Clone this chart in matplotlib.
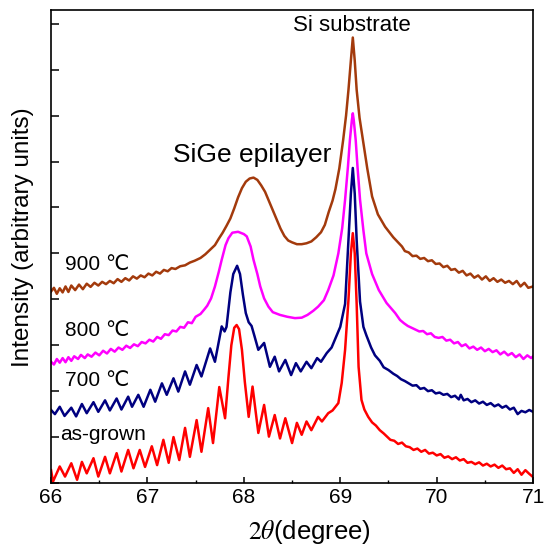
import matplotlib
matplotlib.use("Agg")
import matplotlib.pyplot as plt
from matplotlib.ticker import MultipleLocator

plt.rcParams['font.family'] = ['Liberation Sans', 'DejaVu Sans']
plt.rcParams['mathtext.fontset'] = 'stix'

# ------------------------------------------------------------
# data (2theta in degree, intensity in arb. units)
# ------------------------------------------------------------
red_x = [66.00, 66.02, 66.09, 66.145, 66.21, 66.27, 66.32, 66.37, 66.44, 66.49,
         66.56, 66.61, 66.68, 66.73, 66.80, 66.855, 66.92, 66.975, 67.045, 67.10,
         67.165, 67.22, 67.27, 67.33, 67.39, 67.44, 67.51, 67.56, 67.63, 67.68,
         67.745, 67.805, 67.84, 67.87, 67.90, 67.925, 67.95, 67.98, 68.01, 68.05,
         68.09, 68.15, 68.21, 68.26, 68.32, 68.375, 68.43, 68.50, 68.55, 68.60,
         68.65, 68.70, 68.77, 68.81, 68.875, 68.92, 68.98, 69.015, 69.05, 69.085,
         69.11, 69.13, 69.15, 69.17, 69.19, 69.22, 69.25, 69.29, 69.33, 69.37,
         69.41, 69.45, 69.48, 69.52, 69.56, 69.60, 69.64, 69.68, 69.72, 69.76,
         69.80, 69.84, 69.88, 69.92, 69.96, 70.00, 70.04, 70.08, 70.12, 70.16,
         70.20, 70.24, 70.28, 70.32, 70.36, 70.40, 70.44, 70.48, 70.52, 70.56,
         70.60, 70.64, 70.68, 70.72, 70.76, 70.80, 70.84, 70.88, 70.92, 70.96, 71.00]
red_y = [0.28, 0.03, 0.36, 0.14, 0.43, 0.07, 0.46, 0.21, 0.54, 0.14,
         0.57, 0.21, 0.65, 0.25, 0.72, 0.32, 0.72, 0.35, 0.80, 0.39,
         0.94, 0.44, 1.00, 0.50, 1.20, 0.57, 1.37, 0.68, 1.63, 0.87,
         2.09, 1.41, 2.30, 3.00, 3.38, 3.44, 3.35, 2.90, 2.20, 1.44,
         2.10, 1.09, 1.70, 1.01, 1.48, 0.97, 1.41, 0.87, 1.31, 1.05,
         1.34, 1.15, 1.44, 1.34, 1.52, 1.58, 1.74, 2.18, 2.90, 3.99,
         5.00, 5.44, 5.00, 3.90, 2.53, 1.81, 1.60, 1.44, 1.32, 1.25,
         1.15, 1.08, 1.02, 0.94, 0.92, 0.85, 0.88, 0.80, 0.78, 0.72,
         0.75, 0.68, 0.72, 0.64, 0.66, 0.60, 0.63, 0.55, 0.58, 0.52,
         0.56, 0.49, 0.52, 0.44, 0.46, 0.41, 0.45, 0.38, 0.42, 0.36,
         0.40, 0.33, 0.38, 0.30, 0.32, 0.22, 0.30, 0.18, 0.28, 0.20, 0.13]

blue_x = [66.00, 66.04, 66.09, 66.14, 66.21, 66.26, 66.32, 66.37, 66.44, 66.49,
          66.56, 66.61, 66.68, 66.73, 66.80, 66.84, 66.905, 66.96, 67.03, 67.08,
          67.15, 67.20, 67.27, 67.32, 67.39, 67.44, 67.51, 67.56, 67.65, 67.70,
          67.77, 67.80, 67.82, 67.86, 67.89, 67.93, 67.96, 67.99, 68.02, 68.05,
          68.08, 68.11, 68.15, 68.21, 68.27, 68.32, 68.365, 68.43, 68.49, 68.54,
          68.59, 68.65, 68.70, 68.76, 68.80, 68.86, 68.91, 68.95, 69.00, 69.05,
          69.085, 69.11, 69.13, 69.15, 69.17, 69.205, 69.24, 69.27, 69.32, 69.36,
          69.41, 69.45, 69.50, 69.55, 69.59, 69.63, 69.67, 69.71, 69.75, 69.79,
          69.83, 69.87, 69.91, 69.95, 69.99, 70.03, 70.07, 70.11, 70.15, 70.19,
          70.23, 70.25, 70.28, 70.32, 70.36, 70.40, 70.44, 70.48, 70.52, 70.56,
          70.60, 70.64, 70.68, 70.72, 70.76, 70.80, 70.84, 70.88, 70.92, 70.96, 71.00]
blue_y = [1.59, 1.50, 1.66, 1.46, 1.64, 1.45, 1.72, 1.52, 1.76, 1.55,
          1.80, 1.58, 1.84, 1.60, 1.88, 1.66, 1.92, 1.66, 2.03, 1.77,
          2.17, 1.92, 2.28, 1.99, 2.43, 2.14, 2.57, 2.32, 2.93, 2.64,
          3.41, 3.30, 3.40, 4.15, 4.55, 4.73, 4.55, 4.10, 3.70, 3.50,
          3.42, 3.20, 2.90, 3.05, 2.53, 2.75, 2.43, 2.68, 2.35, 2.61,
          2.43, 2.64, 2.50, 2.72, 2.64, 2.83, 2.95, 3.15, 3.40, 3.90,
          5.29, 6.30, 6.86, 6.30, 5.29, 3.95, 3.40, 3.22, 2.95, 2.78,
          2.66, 2.52, 2.46, 2.38, 2.33, 2.26, 2.22, 2.17, 2.12, 2.13,
          2.05, 2.07, 2.00, 2.02, 1.95, 1.97, 1.92, 1.94, 1.87, 1.90,
          1.82, 1.92, 1.80, 1.83, 1.76, 1.80, 1.73, 1.77, 1.70, 1.74,
          1.67, 1.71, 1.64, 1.68, 1.60, 1.64, 1.50, 1.57, 1.54, 1.59, 1.55]

mag_x = [66.00, 66.03, 66.06, 66.09, 66.12, 66.15, 66.18, 66.21, 66.24, 66.28,
         66.31, 66.35, 66.38, 66.42, 66.46, 66.50, 66.54, 66.58, 66.62, 66.66,
         66.70, 66.74, 66.78, 66.82, 66.86, 66.90, 66.94, 66.98, 67.02, 67.06,
         67.10, 67.14, 67.18, 67.22, 67.26, 67.30, 67.34, 67.38, 67.42, 67.46,
         67.50, 67.55, 67.59, 67.62, 67.66, 67.70, 67.74, 67.77, 67.81, 67.84,
         67.88, 67.94, 68.00, 68.03, 68.07, 68.10, 68.14, 68.17, 68.21, 68.255,
         68.30, 68.375, 68.45, 68.53, 68.60, 68.66, 68.72, 68.77, 68.83, 68.875,
         68.93, 68.98, 69.02, 69.05, 69.08, 69.10, 69.12, 69.13, 69.14, 69.16,
         69.18, 69.205, 69.24, 69.27, 69.33, 69.40, 69.48, 69.57, 69.62, 69.66,
         69.70, 69.74, 69.78, 69.82, 69.86, 69.90, 69.94, 69.98, 70.02, 70.06,
         70.10, 70.14, 70.18, 70.22, 70.26, 70.30, 70.34, 70.38, 70.42, 70.46,
         70.50, 70.54, 70.58, 70.62, 70.66, 70.70, 70.74, 70.78, 70.82, 70.86,
         70.90, 70.94, 70.98, 71.00]
mag_y = [2.64, 2.58, 2.70, 2.62, 2.72, 2.63, 2.74, 2.66, 2.76, 2.70,
         2.79, 2.72, 2.80, 2.75, 2.84, 2.78, 2.88, 2.82, 2.92, 2.86,
         2.95, 2.90, 2.99, 2.94, 3.02, 2.98, 3.07, 3.04, 3.12, 3.08,
         3.18, 3.14, 3.24, 3.22, 3.32, 3.30, 3.40, 3.38, 3.50, 3.48,
         3.62, 3.68, 3.78, 3.86, 4.02, 4.28, 4.60, 4.86, 5.18, 5.33,
         5.45, 5.47, 5.42, 5.37, 5.15, 4.86, 4.55, 4.28, 4.02, 3.84,
         3.72, 3.66, 3.62, 3.59, 3.60, 3.66, 3.75, 3.84, 3.98, 4.20,
         4.52, 5.00, 5.55, 6.17, 6.90, 7.47, 7.90, 8.05, 7.90, 7.47,
         6.85, 6.17, 5.50, 5.00, 4.55, 4.20, 3.92, 3.70, 3.55, 3.48,
         3.42, 3.38, 3.34, 3.30, 3.31, 3.24, 3.26, 3.18, 3.16, 3.18,
         3.10, 3.12, 3.04, 3.07, 2.98, 3.02, 2.93, 2.97, 2.90, 2.95,
         2.87, 2.92, 2.85, 2.89, 2.80, 2.86, 2.78, 2.83, 2.74, 2.80,
         2.70, 2.78, 2.72, 2.76]

brown_x = [66.00, 66.03, 66.06, 66.09, 66.12, 66.15, 66.18, 66.21, 66.25, 66.29,
           66.33, 66.37, 66.41, 66.45, 66.49, 66.53, 66.57, 66.61, 66.65, 66.69,
           66.73, 66.77, 66.81, 66.85, 66.89, 66.93, 66.97, 67.01, 67.05, 67.09,
           67.13, 67.17, 67.21, 67.25, 67.29, 67.34, 67.39, 67.44, 67.49, 67.55,
           67.60, 67.65, 67.70, 67.74, 67.78, 67.82, 67.86, 67.90, 67.94, 67.98,
           68.02, 68.06, 68.10, 68.14, 68.18, 68.22, 68.26, 68.30, 68.34, 68.38,
           68.42, 68.46, 68.50, 68.55, 68.60, 68.65, 68.70, 68.75, 68.80, 68.84,
           68.88, 68.92, 68.95, 68.99, 69.03, 69.06, 69.085, 69.11, 69.13, 69.15,
           69.17, 69.20, 69.24, 69.28, 69.33, 69.39, 69.465, 69.55, 69.64, 69.67,
           69.71, 69.75, 69.79, 69.83, 69.87, 69.91, 69.95, 69.99, 70.03, 70.07,
           70.11, 70.15, 70.19, 70.23, 70.27, 70.31, 70.35, 70.39, 70.43, 70.47,
           70.51, 70.55, 70.59, 70.63, 70.67, 70.71, 70.75, 70.79, 70.83, 70.87,
           70.91, 70.95, 71.00]
brown_y = [4.17, 4.25, 4.12, 4.24, 4.15, 4.28, 4.16, 4.30, 4.20, 4.32,
           4.22, 4.34, 4.27, 4.36, 4.30, 4.38, 4.33, 4.40, 4.35, 4.44,
           4.38, 4.46, 4.41, 4.50, 4.45, 4.52, 4.48, 4.56, 4.52, 4.60,
           4.56, 4.64, 4.61, 4.68, 4.66, 4.72, 4.74, 4.80, 4.84, 4.90,
           4.98, 5.08, 5.18, 5.32, 5.45, 5.60, 5.76, 5.98, 6.22, 6.42,
           6.56, 6.63, 6.65, 6.60, 6.48, 6.34, 6.14, 5.94, 5.74, 5.54,
           5.38, 5.28, 5.24, 5.20, 5.20, 5.22, 5.26, 5.35, 5.46, 5.62,
           5.90, 6.15, 6.40, 6.85, 7.47, 8.00, 8.56, 9.20, 9.70, 9.20,
           8.56, 7.95, 7.40, 6.85, 6.24, 5.85, 5.58, 5.35, 5.15, 5.05,
           5.02, 4.94, 4.95, 4.88, 4.90, 4.83, 4.85, 4.77, 4.78, 4.70,
           4.73, 4.64, 4.66, 4.58, 4.62, 4.52, 4.56, 4.47, 4.52, 4.43,
           4.50, 4.40, 4.46, 4.38, 4.43, 4.36, 4.40, 4.33, 4.40, 4.28,
           4.36, 4.25, 4.28]

x_ticks = [66, 67, 68, 69, 70, 71]

# ------------------------------------------------------------
# plot
# ------------------------------------------------------------
fig = plt.figure(figsize=(5.49, 5.51), dpi=100)
ax = fig.add_axes([0.093, 0.1234, 0.878, 0.8585])

kw = dict(lw=1.8, solid_joinstyle='round')
ax.plot(brown_x, brown_y, color='#a33a0c', **kw)
ax.plot(mag_x, mag_y, color='#ff00ff', **kw)
ax.plot(blue_x, blue_y, color='#000080', **kw)
ax.plot(red_x, red_y, color='#ff0000', **kw)

ax.set_xlim(66, 71)
ax.set_ylim(0, 10.3)
ax.set_xticks(x_ticks)
ax.xaxis.set_minor_locator(MultipleLocator(0.5))
ax.set_yticks(range(0, 11))
ax.set_yticklabels([])
ax.tick_params(axis='both', which='major', direction='in', length=4.5, width=1.1,
               labelsize=15, top=False, right=False)
ax.tick_params(axis='y', which='major', length=5.5)
ax.tick_params(axis='x', which='minor', direction='in', length=2.5, width=1.0)
for s in ax.spines.values():
    s.set_linewidth(1.2)

ax.set_ylabel('Intensity (arbitrary units)', fontsize=17.5)
ax.yaxis.set_label_coords(-0.036, 0.52)
ax.set_xlabel(r'$2\theta$(degree)', fontsize=18.5)
ax.xaxis.set_label_coords(0.537, -0.075)

ax.text(69.12, 9.97, 'Si substrate', fontsize=16, ha='center', va='center')
ax.text(68.085, 7.15, 'SiGe epilayer', fontsize=19, ha='center', va='center')
ax.text(66.145, 4.75, '900 \u2103', fontsize=15, ha='left', va='center')
ax.text(66.145, 3.33, '800 \u2103', fontsize=15, ha='left', va='center')
ax.text(66.145, 2.24, '700 \u2103', fontsize=15, ha='left', va='center')
ax.text(66.093, 1.05, 'as-grown', fontsize=15, ha='left', va='center')

fig.savefig('out.png', dpi=100)
